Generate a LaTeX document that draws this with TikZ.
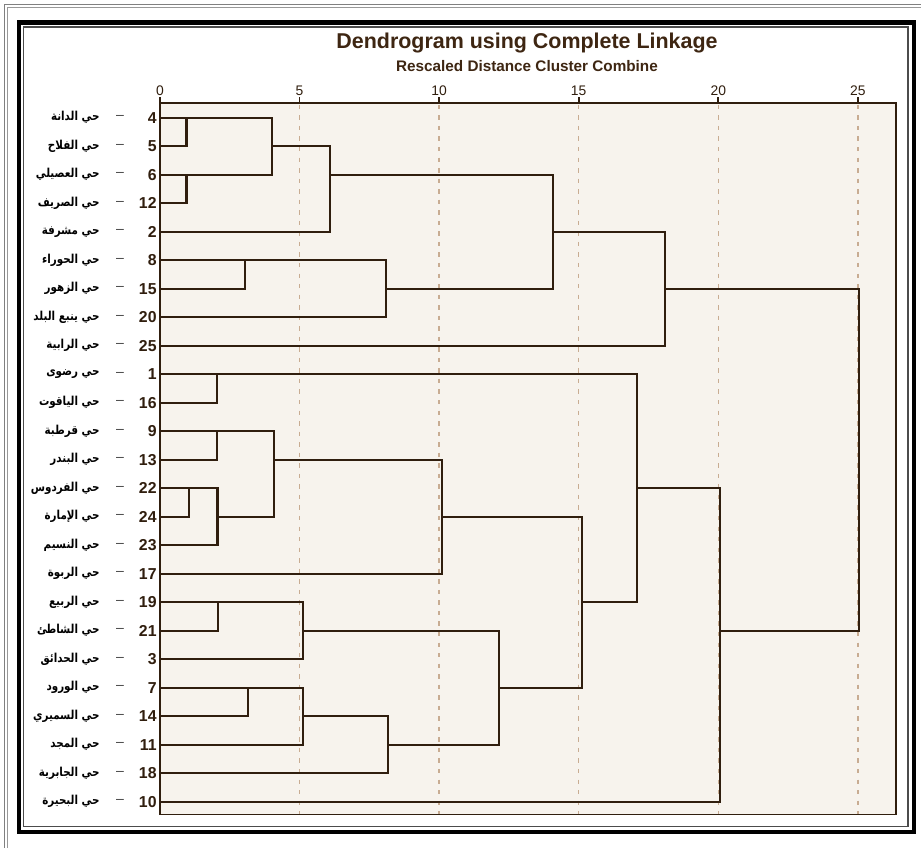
\documentclass[tikz,border=0pt]{standalone}
\usepackage{fontspec}
\setmainfont{Liberation Sans}
\newfontfamily\arabicfont[Script=Arabic, FakeStretch=0.84]{DejaVu Sans}
\TeXXeTstate=1
\usetikzlibrary{calc}

\definecolor{inkbrown}{RGB}{48,30,14}
\definecolor{titlebrown}{RGB}{62,38,18}
\definecolor{paper}{RGB}{247,243,237}
\definecolor{gridbrown}{RGB}{200,172,146}

\begin{document}
\begin{tikzpicture}[x=0.02cm, y=-0.02cm,
    link/.style={draw=inkbrown, line width=1.25pt},
    plot frame/.style={draw=inkbrown, line width=0.9pt},
    grid line/.style={draw=gridbrown, line width=0.8pt, dash pattern=on 2.5pt off 3.5pt},
    leaf num/.style={anchor=east, inner sep=0pt, text=inkbrown, font=\bfseries\fontsize{9}{9}\selectfont},
    leaf dash/.style={inner sep=0pt, text=black!75, font=\fontsize{8}{8}\selectfont},
    leaf name/.style={anchor=east, inner sep=0pt, font=\arabicfont\bfseries\fontsize{7}{8}\selectfont},
    tick label/.style={anchor=base, inner sep=0pt, text=inkbrown, font=\fontsize{7.9}{8}\selectfont}]

    \useasboundingbox (0,0) rectangle (921,848);
    \fill[white] (0,0) rectangle (921,848);

    % outer frames
    \draw[gray, line width=0.5pt] (4.5,4.5) rectangle (940,870);
    \draw[gray!80, line width=0.5pt] (7,7) rectangle (940,870);
    \draw[black, line width=2.5pt] (19,22.5) rectangle (914,832);
    \draw[black!70, line width=0.6pt] (23.5,27) rectangle (908,826.5);

    \node[anchor=base, inner sep=0pt, text=titlebrown, font=\bfseries\fontsize{12.2}{14}\selectfont] (title) at (527,49) {Dendrogram using Complete Linkage};
    \node[anchor=base, inner sep=0pt, text=titlebrown, font=\bfseries\fontsize{8.7}{10}\selectfont] (subtitle) at (527,72) {Rescaled Distance Cluster Combine};

    \begin{scope}[shift={(160,117.7)}, x=0.5584cm, y=-0.5702cm]
        \fill[paper] (0,-0.516) rectangle (26.36,24.45);
        \foreach \d in {5,10,...,25}
            \draw[grid line] (\d,-0.45) -- (\d,24.45);
        \draw[plot frame] (0,-0.516) rectangle (26.36,24.45);
        \foreach \d in {0,5,...,25} {
            \draw[plot frame] (\d,-0.516) -- (\d,-0.74);
            \node[tick label] at (\d,-0.796) {\d};
        }

        % leaves
        \coordinate (L4) at (0,0);   \node[leaf num] (N4) at (-0.11,0) {4};   \node[leaf dash] (D4) at (-1.43,0) {–};   \node[leaf name] (A4) at (-2.15,0) {\beginR حي الدانة\endR};
        \coordinate (L5) at (0,1);   \node[leaf num] (N5) at (-0.11,1) {5};   \node[leaf dash] (D5) at (-1.43,1) {–};   \node[leaf name] (A5) at (-2.15,1) {\beginR حي الفلاح\endR};
        \coordinate (L6) at (0,2);   \node[leaf num] (N6) at (-0.11,2) {6};   \node[leaf dash] (D6) at (-1.43,2) {–};   \node[leaf name] (A6) at (-2.15,2) {\beginR حي العصيلي\endR};
        \coordinate (L12) at (0,3);  \node[leaf num] (N12) at (-0.11,3) {12}; \node[leaf dash] (D12) at (-1.43,3) {–}; \node[leaf name] (A12) at (-2.15,3) {\beginR حي الصريف\endR};
        \coordinate (L2) at (0,4);   \node[leaf num] (N2) at (-0.11,4) {2};   \node[leaf dash] (D2) at (-1.43,4) {–};   \node[leaf name] (A2) at (-2.15,4) {\beginR حي مشرفة\endR};
        \coordinate (L8) at (0,5);   \node[leaf num] (N8) at (-0.11,5) {8};   \node[leaf dash] (D8) at (-1.43,5) {–};   \node[leaf name] (A8) at (-2.15,5) {\beginR حي الحوراء\endR};
        \coordinate (L15) at (0,6);  \node[leaf num] (N15) at (-0.11,6) {15}; \node[leaf dash] (D15) at (-1.43,6) {–}; \node[leaf name] (A15) at (-2.15,6) {\beginR حي الزهور\endR};
        \coordinate (L20) at (0,7);  \node[leaf num] (N20) at (-0.11,7) {20}; \node[leaf dash] (D20) at (-1.43,7) {–}; \node[leaf name] (A20) at (-2.15,7) {\beginR حي ينبع البلد\endR};
        \coordinate (L25) at (0,8);  \node[leaf num] (N25) at (-0.11,8) {25}; \node[leaf dash] (D25) at (-1.43,8) {–}; \node[leaf name] (A25) at (-2.15,8) {\beginR حي الرابية\endR};
        \coordinate (L1) at (0,9);   \node[leaf num] (N1) at (-0.11,9) {1};   \node[leaf dash] (D1) at (-1.43,9) {–};   \node[leaf name] (A1) at (-2.15,9) {\beginR حي رضوى\endR};
        \coordinate (L16) at (0,10); \node[leaf num] (N16) at (-0.11,10) {16}; \node[leaf dash] (D16) at (-1.43,10) {–}; \node[leaf name] (A16) at (-2.15,10) {\beginR حي الياقوت\endR};
        \coordinate (L9) at (0,11);  \node[leaf num] (N9) at (-0.11,11) {9};   \node[leaf dash] (D9) at (-1.43,11) {–};   \node[leaf name] (A9) at (-2.15,11) {\beginR حي قرطبة\endR};
        \coordinate (L13) at (0,12); \node[leaf num] (N13) at (-0.11,12) {13}; \node[leaf dash] (D13) at (-1.43,12) {–}; \node[leaf name] (A13) at (-2.15,12) {\beginR حي البندر\endR};
        \coordinate (L22) at (0,13); \node[leaf num] (N22) at (-0.11,13) {22}; \node[leaf dash] (D22) at (-1.43,13) {–}; \node[leaf name] (A22) at (-2.15,13) {\beginR حي الفردوس\endR};
        \coordinate (L24) at (0,14); \node[leaf num] (N24) at (-0.11,14) {24}; \node[leaf dash] (D24) at (-1.43,14) {–}; \node[leaf name] (A24) at (-2.15,14) {\beginR حي الإمارة\endR};
        \coordinate (L23) at (0,15); \node[leaf num] (N23) at (-0.11,15) {23}; \node[leaf dash] (D23) at (-1.43,15) {–}; \node[leaf name] (A23) at (-2.15,15) {\beginR حي النسيم\endR};
        \coordinate (L17) at (0,16); \node[leaf num] (N17) at (-0.11,16) {17}; \node[leaf dash] (D17) at (-1.43,16) {–}; \node[leaf name] (A17) at (-2.15,16) {\beginR حي الربوة\endR};
        \coordinate (L19) at (0,17); \node[leaf num] (N19) at (-0.11,17) {19}; \node[leaf dash] (D19) at (-1.43,17) {–}; \node[leaf name] (A19) at (-2.15,17) {\beginR حي الربيع\endR};
        \coordinate (L21) at (0,18); \node[leaf num] (N21) at (-0.11,18) {21}; \node[leaf dash] (D21) at (-1.43,18) {–}; \node[leaf name] (A21) at (-2.15,18) {\beginR حي الشاطئ\endR};
        \coordinate (L3) at (0,19);  \node[leaf num] (N3) at (-0.11,19) {3};   \node[leaf dash] (D3) at (-1.43,19) {–};   \node[leaf name] (A3) at (-2.15,19) {\beginR حي الحدائق\endR};
        \coordinate (L7) at (0,20);  \node[leaf num] (N7) at (-0.11,20) {7};   \node[leaf dash] (D7) at (-1.43,20) {–};   \node[leaf name] (A7) at (-2.15,20) {\beginR حي الورود\endR};
        \coordinate (L14) at (0,21); \node[leaf num] (N14) at (-0.11,21) {14}; \node[leaf dash] (D14) at (-1.43,21) {–}; \node[leaf name] (A14) at (-2.15,21) {\beginR حي السميري\endR};
        \coordinate (L11) at (0,22); \node[leaf num] (N11) at (-0.11,22) {11}; \node[leaf dash] (D11) at (-1.43,22) {–}; \node[leaf name] (A11) at (-2.15,22) {\beginR حي المجد\endR};
        \coordinate (L18) at (0,23); \node[leaf num] (N18) at (-0.11,23) {18}; \node[leaf dash] (D18) at (-1.43,23) {–}; \node[leaf name] (A18) at (-2.15,23) {\beginR حي الجابرية\endR};
        \coordinate (L10) at (0,24); \node[leaf num] (N10) at (-0.11,24) {10}; \node[leaf dash] (D10) at (-1.43,24) {–}; \node[leaf name] (A10) at (-2.15,24) {\beginR حي البحيرة\endR};

        % merges: (distance, row the joined cluster leaves from)
        \coordinate (M1) at (0.95,0);   \draw[link] (L4) -| (M1) |- (L5);
        \coordinate (M2) at (0.95,2);   \draw[link] (L6) -| (M2) |- (L12);
        \coordinate (M3) at (4.0,1);    \draw[link] (M1) -| (M3) |- (M2);
        \coordinate (M4) at (6.1,2);    \draw[link] (M3) -| (M4) |- (L2);
        \coordinate (M5) at (3.05,5);   \draw[link] (L8) -| (M5) |- (L15);
        \coordinate (M6) at (8.1,6);    \draw[link] (M5) -| (M6) |- (L20);
        \coordinate (M7) at (14.08,4);  \draw[link] (M4) -| (M7) |- (M6);
        \coordinate (M8) at (18.1,6);   \draw[link] (M7) -| (M8) |- (L25);

        \coordinate (M9) at (2.05,9);   \draw[link] (L1) -| (M9) |- (L16);
        \coordinate (M10) at (2.05,11); \draw[link] (L9) -| (M10) |- (L13);
        \coordinate (M11) at (1.05,13); \draw[link] (L22) -| (M11) |- (L24);
        \coordinate (M12) at (2.06,14); \draw[link] (M11) -| (M12) |- (L23);
        \coordinate (M13) at (4.08,12); \draw[link] (M10) -| (M13) |- (M12);
        \coordinate (M14) at (10.1,14); \draw[link] (M13) -| (M14) |- (L17);
        \coordinate (M15) at (2.08,17); \draw[link] (L19) -| (M15) |- (L21);
        \coordinate (M16) at (5.12,18); \draw[link] (M15) -| (M16) |- (L3);
        \coordinate (M17) at (3.15,20); \draw[link] (L7) -| (M17) |- (L14);
        \coordinate (M18) at (5.12,21); \draw[link] (M17) -| (M18) |- (L11);
        \coordinate (M19) at (8.17,22); \draw[link] (M18) -| (M19) |- (L18);
        \coordinate (M20) at (12.14,20); \draw[link] (M16) -| (M20) |- (M19);
        \coordinate (M21) at (15.11,17); \draw[link] (M14) -| (M21) |- (M20);
        \coordinate (M22) at (17.08,13); \draw[link] (M9) -| (M22) |- (M21);
        \coordinate (M23) at (20.06,18); \draw[link] (M22) -| (M23) |- (L10);
        \coordinate (M24) at (25.03,12); \draw[link] (M8) -| (M24) |- (M23);
    \end{scope}
\end{tikzpicture}
\end{document}
